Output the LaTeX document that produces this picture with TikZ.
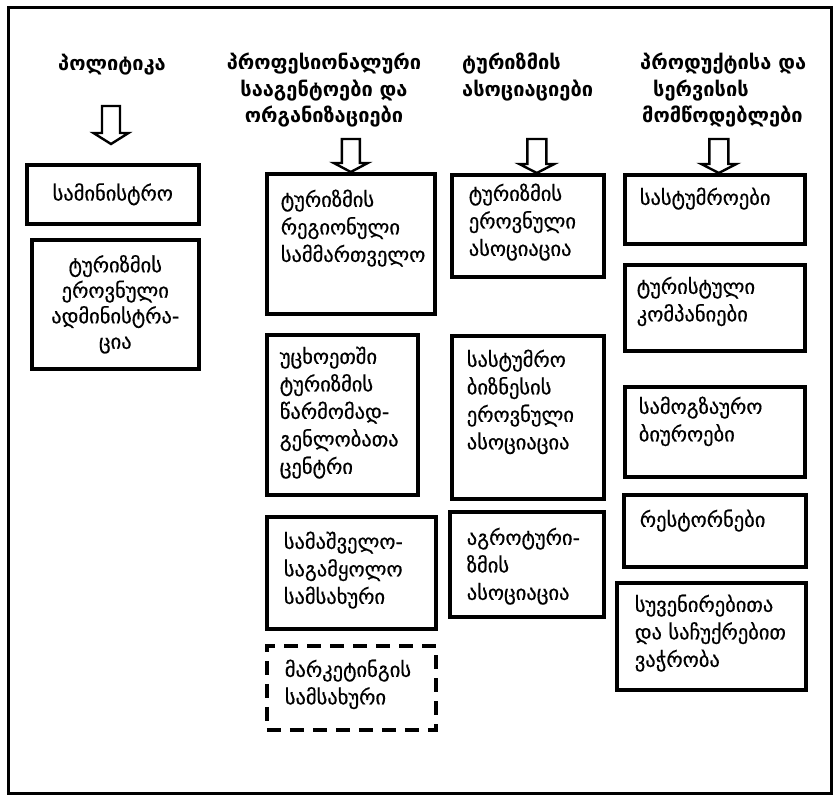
\documentclass[tikz,border=0pt]{standalone}
\usepackage{fontspec}
\setmainfont{DejaVu Sans}
\newfontfamily\gtx[FakeBold=0.6]{DejaVu Sans}
\newcommand\gin[5]{% width, height, baseline of first line, left pad, text
  \begin{minipage}[c][#2][t]{#1}\raggedright\leftskip=#4\relax
  \gtx\fontsize{20.5}{27.5}\selectfont\rule{0pt}{#3}#5\end{minipage}}
\begin{document}
\begin{tikzpicture}[x=1pt,y=-1pt,
  box/.style={draw, line width=3.6pt, anchor=north west, inner sep=0pt},
  cbox/.style={box, align=center, font=\gtx\fontsize{20.5}{25.5}\selectfont},
  dbox/.style={box, dash pattern=on 14pt off 9pt},
  head/.style={font=\fontsize{20}{26.5}\selectfont\bfseries, inner sep=0pt},
  hollow/.style={draw, line width=2.4pt, fill=white, line join=miter}]
\useasboundingbox (0,0) rectangle (837,798);
\draw[line width=3pt] (8,7) rectangle (831,793);
% headings
\node[head] (h1) at (112,65) {პოლიტიკა};
\node[head, align=center, anchor=north] (h2) at (324,53) {პროფესიონალური\\სააგენტოები და\\ორგანიზაციები};
\node[head, align=left, anchor=north west] (h3) at (462,53) {ტურიზმის\\ასოციაციები};
\node[head, align=left, anchor=north west] (h4) at (640,53) {პროდუქტისა და\\\hspace*{13pt}სერვისის\\\hspace*{2pt}მომწოდებლები};
% column 1
\node[cbox, minimum width=172pt, minimum height=59pt] (c1b1) at (25,163) {სამინისტრო};
\node[cbox, minimum width=167pt, minimum height=129pt] (c1b2) at (30,238) {ტურიზმის\\ეროვნული\\ადმინისტრა-\\ცია};
% column 2
\node[box] (c2b1) at (265,172) {\gin{168pt}{140pt}{33pt}{14pt}{ტურიზმის\\რეგიონული\\სამმართველო}};
\node[box] (c2b2) at (265,333) {\gin{151pt}{160pt}{29pt}{13pt}{უცხოეთში\\ტურიზმის\\წარმომად-\\გენლობათა\\ცენტრი}};
\node[box] (c2b3) at (265,515) {\gin{169pt}{112pt}{32pt}{17pt}{სამაშველო-\\საგამყოლო\\სამსახური}};
\node[dbox] (c2b4) at (265,644) {\gin{169pt}{84pt}{31pt}{18pt}{მარკეტინგის\\სამსახური}};
% column 3
\node[box] (c3b1) at (450,173) {\gin{152pt}{102pt}{26pt}{17pt}{ტურიზმის\\ეროვნული\\ასოციაცია}};
\node[box] (c3b2) at (450,334) {\gin{152pt}{163pt}{31pt}{15pt}{სასტუმრო\\ბიზნესის\\ეროვნული\\ასოციაცია}};
\node[box] (c3b3) at (448,510) {\gin{154pt}{105pt}{33pt}{17pt}{აგროტური-\\ზმის\\ასოციაცია}};
% column 4
\node[box] (c4b1) at (623,173) {\gin{180pt}{69pt}{30pt}{15pt}{სასტუმროები}};
\node[box] (c4b2) at (623,263) {\gin{180pt}{86pt}{29pt}{12pt}{ტურისტული\\კომპანიები}};
\node[box] (c4b3) at (623,385) {\gin{180pt}{90pt}{27pt}{14pt}{სამოგზაურო\\ბიუროები}};
\node[box] (c4b4) at (622,493) {\gin{182pt}{72pt}{32pt}{16pt}{რესტორნები}};
\node[box] (c4b5) at (615,581) {\gin{189pt}{107pt}{29pt}{18pt}{სუვენირებითა\\და საჩუქრებით\\ვაჭრობა}};
% arrows
\coordinate (t1) at (111,144);
\draw[hollow] (t1) -- ++(-17.5,-11) -- ++(8.5,0) -- ++(0,-27) -- ++(18,0) -- ++(0,27) -- ++(8.5,0) -- cycle;
\draw[hollow] ([xshift=0pt]c2b1.north) -- ++(-17,-9) -- ++(8,0) -- ++(0,-24) -- ++(18,0) -- ++(0,24) -- ++(8,0) -- cycle;
\draw[hollow] ([xshift=9pt]c3b1.north) -- ++(-17.5,-9) -- ++(8,0) -- ++(0,-25) -- ++(19,0) -- ++(0,25) -- ++(8,0) -- cycle;
\draw[hollow] ([xshift=4pt]c4b1.north) -- ++(-17.5,-9) -- ++(8,0) -- ++(0,-25) -- ++(19,0) -- ++(0,25) -- ++(8,0) -- cycle;
\end{tikzpicture}
\end{document}
